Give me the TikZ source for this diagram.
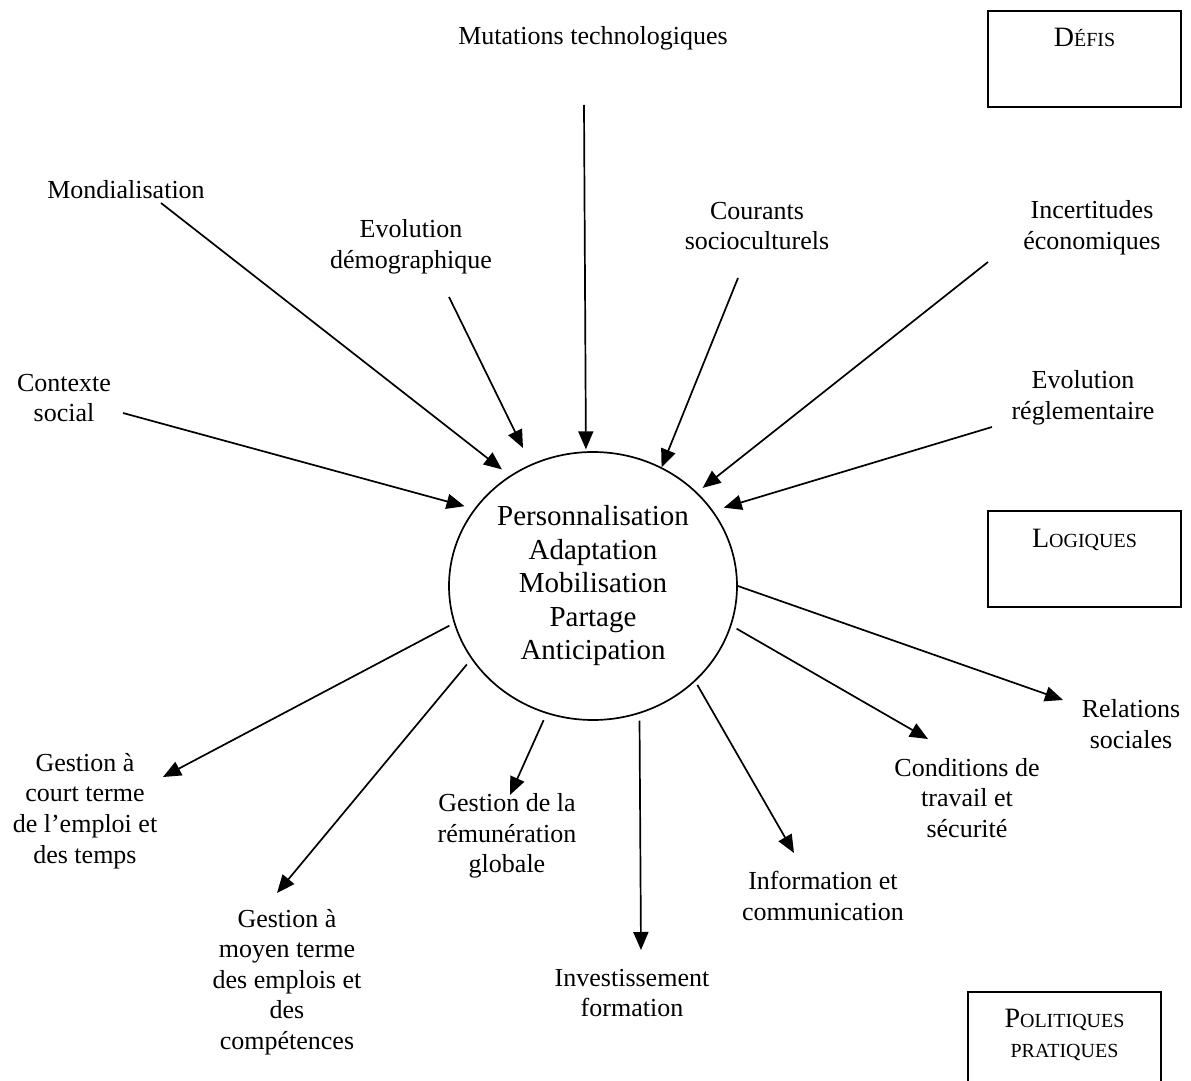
\documentclass[tikz,border=0pt]{standalone}
\usepackage{fontspec}
\setmainfont{Liberation Serif}
\usetikzlibrary{arrows.meta,shapes.geometric}
\newcommand\petitcap[2]{#1{\fontsize{10}{12}\selectfont #2}}

\begin{document}
\begin{tikzpicture}[x=0.5pt,y=-0.5pt,
  lbl/.style={align=center,inner sep=0pt,font=\fontsize{13}{15.3}\selectfont},
  cadre/.style={draw,line width=1pt,anchor=north west,minimum width=96.5pt,inner sep=0pt,
    text height=18pt,text depth=30pt,align=center,font=\fontsize{14}{15}\selectfont},
  fleche/.style={line width=0.85pt,-{Triangle[length=9pt,width=7.5pt]}}]
\useasboundingbox (0,0) rectangle (1191,1081);
% logiques au centre
\node[ellipse,draw,line width=0.85pt,minimum width=144pt,minimum height=134pt,inner sep=0pt,
  align=center,font=\fontsize{14.5}{16.75}\selectfont] (c) at (593,586)
  {Personnalisation\\Adaptation\\Mobilisation\\Partage\\Anticipation};
% cadres de droite
\node[cadre] (defis) at (987,10) {\petitcap{D}{ÉFIS}};
\node[cadre] (logiques) at (987,510) {\petitcap{L}{OGIQUES}};
\node[cadre,minimum width=96.5pt,text height=32.5pt,text depth=20pt] (politiques) at (967,991)
  {\petitcap{P}{OLITIQUES}\\{\fontsize{10}{12}\selectfont PRATIQUES}};
% defis
\node[lbl] (mut) at (593,38) {Mutations technologiques};
\node[lbl] (mond) at (126,190) {Mondialisation};
\node[lbl] (demo) at (411,247) {Evolution\\démographique};
\node[lbl] (ctx) at (64,398) {Contexte\\social};
\node[lbl] (cour) at (757,226) {Courants\\socioculturels};
\node[lbl] (inc) at (1092,228) {Incertitudes\\économiques};
\node[lbl] (regl) at (1083,398) {Evolution\\réglementaire};
% politiques
\node[lbl] (court) at (85,811) {Gestion à\\court terme\\de l’emploi et\\des temps};
\node[lbl] (moyen) at (287,982) {Gestion à\\moyen terme\\des emplois et\\des\\compétences};
\node[lbl] (remu) at (507,836) {Gestion de la\\rémunération\\globale};
\node[lbl] (inv) at (632,993) {Investissement\\formation};
\node[lbl] (info) at (823,896) {Information et\\communication};
\node[lbl] (cond) at (967,798) {Conditions de\\travail et\\sécurité};
\node[lbl] (rel) at (1131,724) {Relations\\sociales};
% fleches entrantes
\draw[fleche,shorten >=1pt] ([shift={(-9,67)}]mut.center) -- (c.93.85);
\draw[fleche,shorten >=5pt] ([shift={(35,13)}]mond.center) -- (c.127.6);
\draw[fleche,shorten >=9pt] ([shift={(38,50)}]demo.center) -- (c.117.4);
\draw[fleche,shorten >=5pt] ([shift={(59,15)}]ctx.center) -- (c.147.7);
\draw[fleche] ([shift={(-19,52)}]cour.center) -- (c.60.3);
\draw[fleche,shorten >=3.5pt] ([shift={(-104,34)}]inc.center) -- (c.42.8);
\draw[fleche,shorten >=5.5pt] ([shift={(-91,29)}]regl.center) -- (c.32.1);
% fleches sortantes
\draw[fleche,shorten <=2.5pt] (c.195.6) -- ([shift={(78,-34)}]court.center);
\draw[fleche,shorten <=3.5pt] (c.211.4) -- ([shift={(-10,-89)}]moyen.center);
\draw[fleche,shorten <=3.5pt] (c.250.3) -- ([shift={(3,-41)}]remu.center);
\draw[fleche,shorten <=3.5pt] (c.290.8) -- ([shift={(9,-43)}]inv.center);
\draw[fleche,shorten <=2pt] (c.317.3) -- ([shift={(-29,-43)}]info.center);
\draw[fleche,shorten <=3pt] (c.344.8) -- ([shift={(-39,-59)}]cond.center);
\draw[fleche] (c.0) -- ([shift={(-68,-24)}]rel.center);
\end{tikzpicture}
\end{document}
